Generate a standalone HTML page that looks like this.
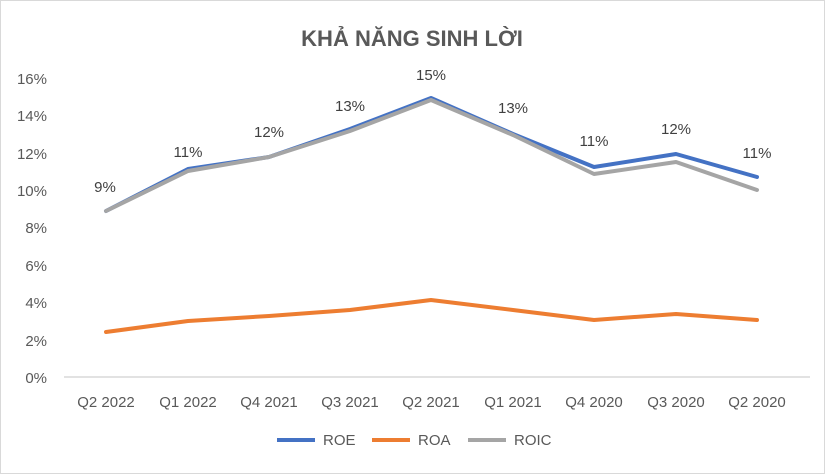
<!DOCTYPE html><html><head><style>body{margin:0;background:#fff}svg{display:block;font-family:"Liberation Sans",Arial,sans-serif}</style></head><body>
<svg width="825" height="474" viewBox="0 0 825 474">
<rect x="0.5" y="0.5" width="824" height="473" fill="#fff" stroke="#d9d9d9"/>
<text x="412" y="46" text-anchor="middle" font-size="22" font-weight="bold" fill="#595959">KHẢ NĂNG SINH LỜI</text>
<g font-size="15" fill="#595959" text-anchor="end">
<text x="47" y="383">0%</text><text x="47" y="346">2%</text><text x="47" y="308">4%</text><text x="47" y="271">6%</text><text x="47" y="233">8%</text><text x="47" y="196">10%</text><text x="47" y="159">12%</text><text x="47" y="121">14%</text><text x="47" y="84">16%</text>
</g>
<line x1="64" y1="377" x2="810" y2="377" stroke="#d9d9d9" stroke-width="1.5"/>
<g font-size="15" fill="#595959" text-anchor="middle">
<text x="106" y="407">Q2 2022</text><text x="188" y="407">Q1 2022</text><text x="269" y="407">Q4 2021</text><text x="350" y="407">Q3 2021</text><text x="431" y="407">Q2 2021</text><text x="513" y="407">Q1 2021</text><text x="594" y="407">Q4 2020</text><text x="676" y="407">Q3 2020</text><text x="757" y="407">Q2 2020</text>
</g>
<g fill="none" stroke-width="4" stroke-linejoin="round" stroke-linecap="round">
<polyline stroke="#ed7d31" points="106,332 188,321 269,316 350,310 431,300 513,310 594,320 676,314 757,320"/>
<polyline stroke="#4472c4" points="106,211 188,169 269,157 350,129 431,98 513,134 594,167 676,154 757,177"/>
<polyline stroke="#a5a5a5" points="106,211 188,171 269,157 350,131 431,100 513,135 594,174 676,162 757,190"/>
</g>
<g font-size="15" fill="#404040" text-anchor="middle">
<text x="105" y="192">9%</text><text x="188" y="157">11%</text><text x="269" y="137">12%</text><text x="350" y="111">13%</text><text x="431" y="80">15%</text><text x="513" y="113">13%</text><text x="594" y="146">11%</text><text x="676" y="134">12%</text><text x="757" y="158">11%</text>
</g>
<g stroke-width="4"><line x1="277" y1="440" x2="315" y2="440" stroke="#4472c4"/><line x1="372" y1="440" x2="410" y2="440" stroke="#ed7d31"/><line x1="468" y1="440" x2="506" y2="440" stroke="#a5a5a5"/></g>
<g font-size="15" fill="#595959"><text x="323" y="445">ROE</text><text x="418" y="445">ROA</text><text x="514" y="445">ROIC</text></g>
</svg></body></html>
